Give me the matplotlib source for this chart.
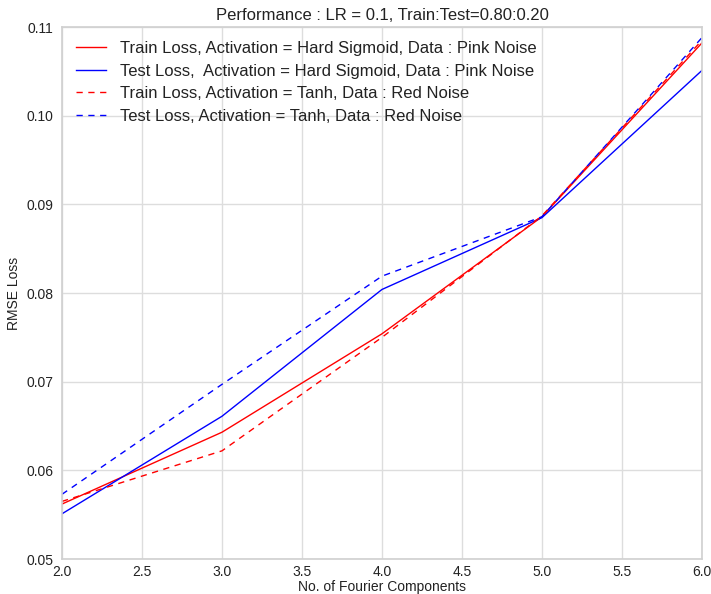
import matplotlib
matplotlib.use("Agg")
import matplotlib.pyplot as plt

x = [2, 3, 4, 5, 6]
train_hs_pink = [0.0562, 0.0643, 0.0754, 0.0886, 0.1082]
test_hs_pink = [0.0551, 0.0661, 0.0804, 0.0885, 0.1051]
train_tanh_red = [0.0565, 0.0622, 0.0750, 0.0887, 0.1085]
test_tanh_red = [0.0573, 0.0697, 0.0819, 0.0886, 0.1088]

labels = [
    "Train Loss, Activation = Hard Sigmoid, Data : Pink Noise",
    "Test Loss,  Activation = Hard Sigmoid, Data : Pink Noise",
    "Train Loss, Activation = Tanh, Data : Red Noise",
    "Test Loss, Activation = Tanh, Data : Red Noise",
]

plt.rcParams['font.family'] = ['Liberation Sans', 'DejaVu Sans']

fig = plt.figure(figsize=(7.11, 5.94), dpi=100)
ax = fig.add_axes([0.0872, 0.0589, 0.9, 0.8956])

ax.plot(x, train_hs_pink, color='red', lw=1.0, label=labels[0])
ax.plot(x, test_hs_pink, color='blue', lw=1.0, label=labels[1])
ax.plot(x, train_tanh_red, color='red', lw=1.0, ls=(0, (4.5, 4)), label=labels[2])
ax.plot(x, test_tanh_red, color='blue', lw=1.0, ls=(0, (4.5, 4)), label=labels[3])

ax.set_xlim(2, 6)
ax.set_ylim(0.05, 0.11)
ax.set_xticks([2.0, 2.5, 3.0, 3.5, 4.0, 4.5, 5.0, 5.5, 6.0])
ax.set_xticklabels(["2.0", "2.5", "3.0", "3.5", "4.0", "4.5", "5.0", "5.5", "6.0"])
ax.set_yticks([0.05, 0.06, 0.07, 0.08, 0.09, 0.10, 0.11])
ax.set_yticklabels(["0.05", "0.06", "0.07", "0.08", "0.09", "0.10", "0.11"])
ax.grid(True, color='#dddddd', lw=1.0)
ax.set_axisbelow(True)
for s in ax.spines.values():
    s.set_color('#d0d0d0')
    s.set_linewidth(1.2)
ax.tick_params(axis='x', length=0, labelsize=10, colors='#222222', pad=4)
ax.tick_params(axis='y', length=0, labelsize=10, colors='#222222', pad=6)

ax.set_title("Performance : LR = 0.1, Train:Test=0.80:0.20", fontsize=12, color='#222222', pad=5)
ax.set_xlabel("No. of Fourier Components", fontsize=10, color='#222222', labelpad=1)
ax.set_ylabel("RMSE Loss", fontsize=10, color='#222222', labelpad=4)

leg = ax.legend(loc='upper left', frameon=False, fontsize=12, handlelength=1.8,
                handletextpad=0.85, labelspacing=0.45, borderaxespad=0.45)
for t in leg.get_texts():
    t.set_color('#222222')

fig.savefig("out.png", dpi=100)
